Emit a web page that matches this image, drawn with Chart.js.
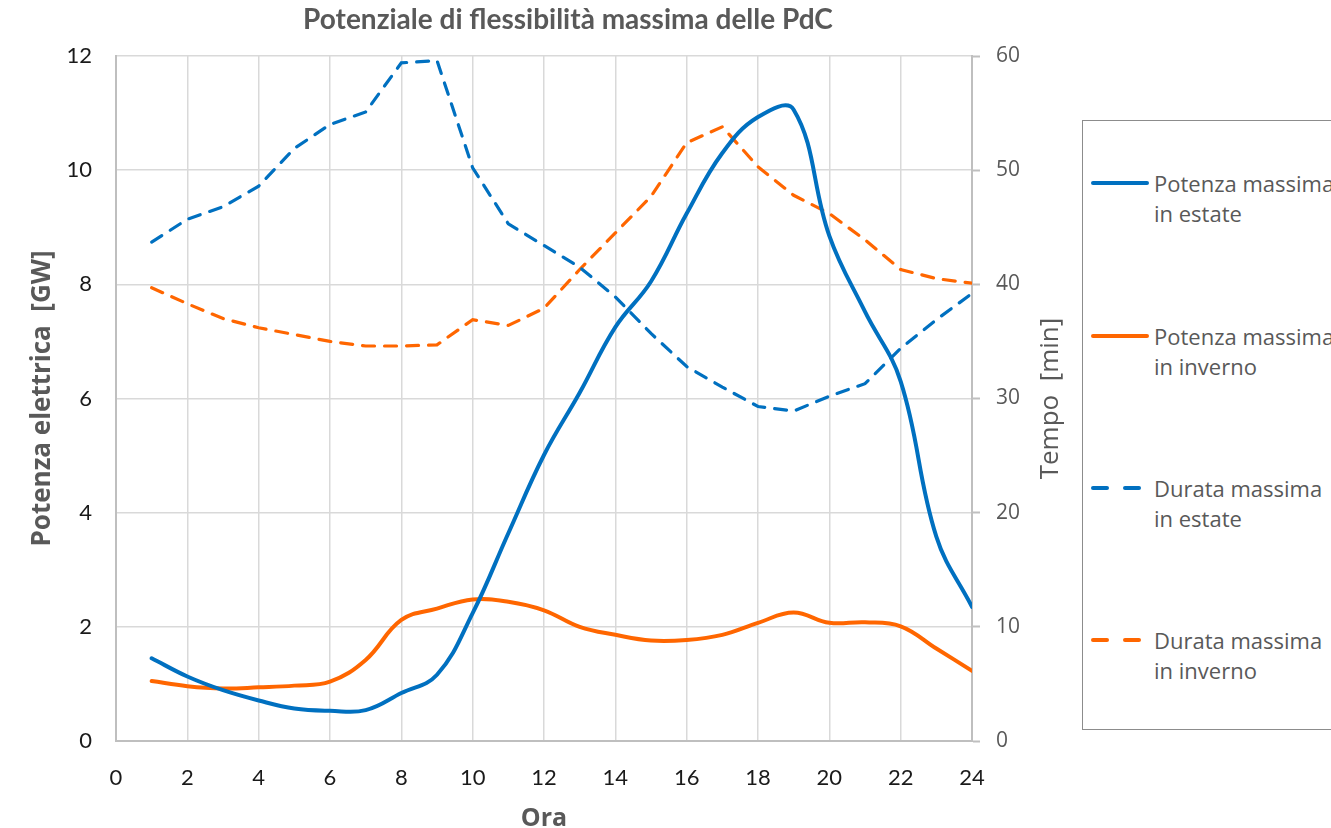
<!DOCTYPE html>
<html>
<head>
<meta charset="utf-8">
<script src="https://cdn.jsdelivr.net/npm/chart.js@4"></script>
<style>
  html, body { margin:0; padding:0; background:#fff; overflow:hidden; }
  #wrap { position:relative; width:1331px; height:828px; }
  #c { position:absolute; left:0; top:0; }
  #legend { position:absolute; left:1082px; top:120px; width:300px; height:608px; border:1px solid #8c8c8c; background:#fff;
            font-family:'Open Sans', sans-serif; font-size:22px; color:#595959; }
  .txt { position:absolute; left:71px; line-height:30px; white-space:nowrap; }
  .seg { position:absolute; height:4px; border-radius:2px; }
</style>
</head>
<body>
<div id="wrap">
  <canvas id="c" width="1331" height="828"></canvas>
  <div id="legend"></div>
</div>
<script>
const hours = [1,2,3,4,5,6,7,8,9,10,11,12,13,14,15,16,17,18,19,20,21,22,23,24];
const potenzaEstate  = [1.45,1.13,0.89,0.71,0.57,0.53,0.54,0.84,1.16,2.24,3.64,5.01,6.10,7.25,8.05,9.24,10.30,10.93,11.06,8.85,7.52,6.30,3.58,2.35];
const potenzaInverno = [1.05,0.96,0.92,0.94,0.97,1.04,1.42,2.12,2.32,2.48,2.44,2.29,2.00,1.86,1.76,1.77,1.86,2.07,2.25,2.07,2.08,2.01,1.62,1.23];
const durataEstate   = [43.7,45.7,46.8,48.6,51.9,54.0,55.1,59.4,59.6,50.2,45.3,43.4,41.5,38.9,35.7,32.8,31.0,29.3,28.9,30.2,31.3,34.4,36.9,39.2];
const durataInverno  = [39.7,38.3,37.0,36.2,35.6,35.0,34.6,34.6,34.7,36.9,36.4,37.9,41.3,44.5,47.7,52.4,53.8,50.3,47.8,46.2,43.9,41.3,40.5,40.1];
const seriesLabels = ['Potenza massima in estate','Potenza massima in inverno','Durata massima in estate','Durata massima in inverno'];
const chartTitle = 'Potenziale di flessibilità massima delle PdC';
const xTitle = 'Ora';
const yTitle = 'Potenza elettrica  [GW]';
const y2Title = 'Tempo  [min]';

const BLUE = '#0070C0', ORANGE = '#FF6600';
const pts = arr => hours.map((h,i) => ({x:h, y:arr[i]}));

const rightTitlePlugin = {
  id: 'rightTitle',
  afterDraw(chart) {
    const {ctx, chartArea} = chart;
    ctx.save();
    ctx.translate(1051, (chartArea.top + chartArea.bottom)/2);
    ctx.rotate(-Math.PI/2);
    ctx.font = '26px "Open Sans"';
    ctx.fillStyle = '#595959';
    ctx.textAlign = 'center';
    ctx.textBaseline = 'middle';
    ctx.fillText(y2Title, 0, 0);
    ctx.restore();
  }
};

new Chart(document.getElementById('c'), {
  type: 'line',
  data: {
    datasets: [
      {label: seriesLabels[0], data: pts(potenzaEstate), yAxisID:'y', borderColor:BLUE, borderWidth:4, tension:0.4, pointRadius:0, borderCapStyle:'round'},
      {label: seriesLabels[1], data: pts(potenzaInverno), yAxisID:'y', borderColor:ORANGE, borderWidth:4, tension:0.4, pointRadius:0, borderCapStyle:'round'},
      {label: seriesLabels[2], data: pts(durataEstate), yAxisID:'y2', borderColor:BLUE, borderWidth:3.2, tension:0, pointRadius:0, borderDash:[12,10], borderCapStyle:'round'},
      {label: seriesLabels[3], data: pts(durataInverno), yAxisID:'y2', borderColor:ORANGE, borderWidth:3.2, tension:0, pointRadius:0, borderDash:[12,10], borderCapStyle:'round'}
    ]
  },
  options: {
    responsive: false,
    animation: false,
    layout: { padding: {left:0, right:195, top:0, bottom:0} },
    plugins: {
      legend: { display:false },
      tooltip: { enabled:false },
      title: { display:true, text: chartTitle, color:'#595959', font:{family:'Lato', size:28, weight:'bold', lineHeight:1.2}, padding:{top:3, bottom:19.4} }
    },
    scales: {
      x: {
        type:'linear', min:0, max:24,
        ticks: { stepSize:2, color:'#1a1a1a', font:{family:'Lato', size:22}, padding:24 },
        grid: { color:'#d9d9d9', lineWidth:1.5, drawTicks:false },
        border: { color:'#bfbfbf', width:2 },
        title: { display:true, text:xTitle, color:'#595959', font:{family:'Open Sans', size:25, weight:'bold', lineHeight:1}, padding:{top:0, bottom:-3} },
        afterFit(s) { s.height = 87; }
      },
      y: {
        position:'left', min:0, max:12,
        ticks: { stepSize:2, color:'#1a1a1a', font:{family:'Lato', size:22}, padding:24 },
        grid: { color:'#d9d9d9', lineWidth:1.5, drawTicks:false },
        border: { color:'#bfbfbf', width:2 },
        title: { display:true, text:yTitle, color:'#595959', font:{family:'Open Sans', size:26, weight:'bold', lineHeight:1}, padding:{top:30, bottom:0} },
        afterFit(s) { s.width = 116; }
      },
      y2: {
        position:'right', min:0, max:60,
        ticks: { stepSize:10, color:'#595959', font:{family:'Open Sans', size:21}, padding:16 },
        grid: { drawOnChartArea:false, drawTicks:true, tickLength:8, tickColor:'#bfbfbf', tickWidth:2, color:'#bfbfbf' },
        border: { color:'#bfbfbf', width:2 },
        afterFit(s) { s.width = 164; }
      }
    }
  },
  plugins: [rightTitlePlugin]
});

// HTML legend built from the dataset labels
const legend = document.getElementById('legend');
const legendCenters = [62, 215, 367, 519];
const legendStyles = [{c:BLUE, d:false},{c:ORANGE, d:false},{c:BLUE, d:true},{c:ORANGE, d:true}];
seriesLabels.forEach((lab, i) => {
  const cy = legendCenters[i];
  const st = legendStyles[i];
  if (st.d) {
    [[8,18],[40,18]].forEach(([l,w]) => {
      const s = document.createElement('div'); s.className='seg';
      s.style.left = l+'px'; s.style.width = w+'px'; s.style.top = (cy-2)+'px'; s.style.background = st.c;
      legend.appendChild(s);
    });
  } else {
    const s = document.createElement('div'); s.className='seg';
    s.style.left = '8px'; s.style.width = '58px'; s.style.top = (cy-2)+'px'; s.style.background = st.c;
    legend.appendChild(s);
  }
  const t = document.createElement('div'); t.className='txt';
  t.style.top = (cy - 15) + 'px';
  const k = lab.indexOf(' in ');
  t.appendChild(document.createTextNode(lab.slice(0,k)));
  t.appendChild(document.createElement('br'));
  t.appendChild(document.createTextNode(lab.slice(k+1)));
  legend.appendChild(t);
});
</script>
</body>
</html>
